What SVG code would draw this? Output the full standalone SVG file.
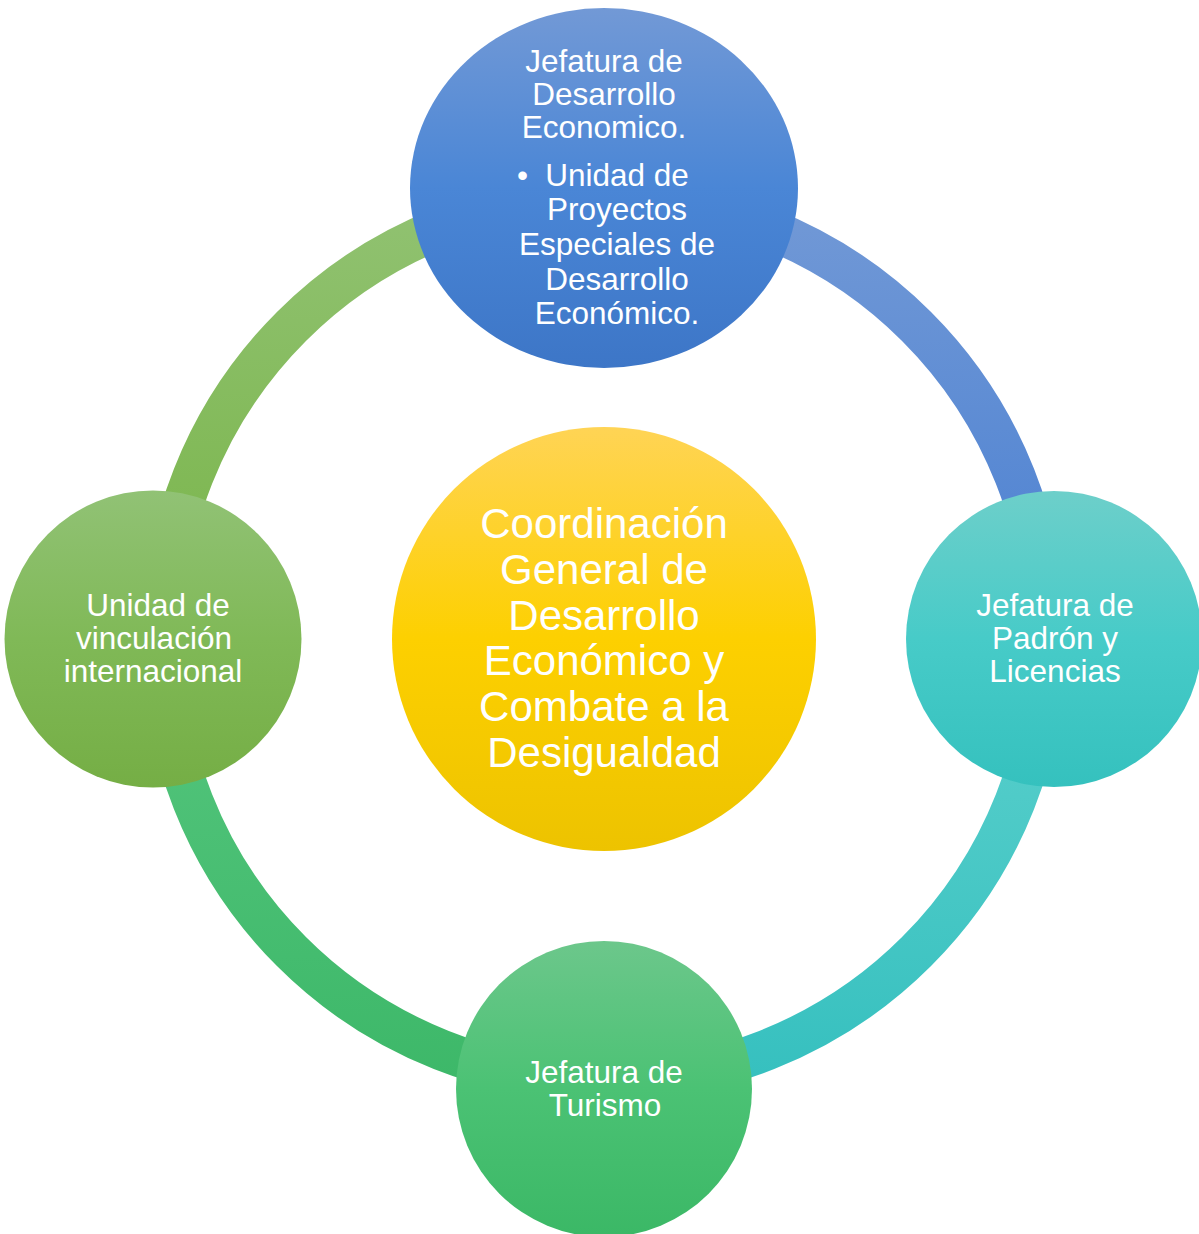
<svg xmlns="http://www.w3.org/2000/svg" width="1199" height="1234" viewBox="0 0 1199 1234">
<defs>
<linearGradient id="gTop" x1="0" y1="0" x2="0" y2="1"><stop offset="0" stop-color="#7299d6"/><stop offset="0.5" stop-color="#4a86d6"/><stop offset="1" stop-color="#3d76c7"/></linearGradient>
<linearGradient id="gRight" x1="0" y1="0" x2="0" y2="1"><stop offset="0" stop-color="#6dcfca"/><stop offset="0.5" stop-color="#47cbc8"/><stop offset="1" stop-color="#35c1be"/></linearGradient>
<linearGradient id="gBottom" x1="0" y1="0" x2="0" y2="1"><stop offset="0" stop-color="#6cc78b"/><stop offset="0.5" stop-color="#4bc274"/><stop offset="1" stop-color="#3bb866"/></linearGradient>
<linearGradient id="gLeft" x1="0" y1="0" x2="0" y2="1"><stop offset="0" stop-color="#91c275"/><stop offset="0.5" stop-color="#80b957"/><stop offset="1" stop-color="#75ae45"/></linearGradient>
<linearGradient id="gCenter" x1="0" y1="0" x2="0" y2="1"><stop offset="0" stop-color="#ffd455"/><stop offset="0.5" stop-color="#fdd000"/><stop offset="1" stop-color="#edc300"/></linearGradient>
<linearGradient id="aTR" gradientUnits="userSpaceOnUse" x1="0" y1="197" x2="0" y2="639"><stop offset="0" stop-color="#7299d6"/><stop offset="1" stop-color="#4a80d2"/></linearGradient>
<linearGradient id="aRB" gradientUnits="userSpaceOnUse" x1="0" y1="639" x2="0" y2="1081"><stop offset="0" stop-color="#5dd1cd"/><stop offset="1" stop-color="#36c0bf"/></linearGradient>
<linearGradient id="aBL" gradientUnits="userSpaceOnUse" x1="0" y1="639" x2="0" y2="1081"><stop offset="0" stop-color="#56c67e"/><stop offset="1" stop-color="#3db869"/></linearGradient>
<linearGradient id="aLT" gradientUnits="userSpaceOnUse" x1="0" y1="197" x2="0" y2="639"><stop offset="0" stop-color="#91c272"/><stop offset="1" stop-color="#78b447"/></linearGradient>
</defs>
<style>
.arc{fill:none;stroke-width:41}
.t{font-family:"Liberation Sans",Arial,sans-serif;fill:#ffffff;text-anchor:middle;font-size:31.5px}
.c{font-size:42px}
.s{text-anchor:start}
</style>
<g id="connectors">
<path class="arc" stroke="url(#aTR)" d="M 604 197 A 442 442 0 0 1 1046 639"/>
<path class="arc" stroke="url(#aRB)" d="M 1046 639 A 442 442 0 0 1 604 1081"/>
<path class="arc" stroke="url(#aBL)" d="M 604 1081 A 442 442 0 0 1 162 639"/>
<path class="arc" stroke="url(#aLT)" d="M 162 639 A 442 442 0 0 1 604 197"/>
</g>
<g id="center">
<circle cx="604" cy="639" r="212" fill="url(#gCenter)"/>
<text class="t c" x="604" y="538">Coordinación</text>
<text class="t c" x="604" y="584">General de</text>
<text class="t c" x="604" y="630">Desarrollo</text>
<text class="t c" x="604" y="675">Económico y</text>
<text class="t c" x="604" y="721">Combate a la</text>
<text class="t c" x="604" y="767">Desigualdad</text>
</g>
<g id="top">
<ellipse cx="604" cy="188" rx="194" ry="180" fill="url(#gTop)"/>
<text class="t" x="604" y="72">Jefatura de</text>
<text class="t" x="604" y="105">Desarrollo</text>
<text class="t" x="604" y="138">Economico.</text>
<text class="t s" x="517" y="186">•</text>
<text class="t" x="617" y="186">Unidad de</text>
<text class="t" x="617" y="220">Proyectos</text>
<text class="t" x="617" y="255">Especiales de</text>
<text class="t" x="617" y="290">Desarrollo</text>
<text class="t" x="617" y="324">Económico.</text>
</g>
<g id="right">
<circle cx="1054" cy="639" r="148" fill="url(#gRight)"/>
<text class="t" x="1055" y="616">Jefatura de</text>
<text class="t" x="1055" y="649">Padrón y</text>
<text class="t" x="1055" y="682">Licencias</text>
</g>
<g id="bottom">
<circle cx="604" cy="1089" r="148" fill="url(#gBottom)"/>
<text class="t" x="604" y="1083">Jefatura de</text>
<text class="t" x="605" y="1116">Turismo</text>
</g>
<g id="left">
<circle cx="153" cy="639" r="148.5" fill="url(#gLeft)"/>
<text class="t" x="158" y="616">Unidad de</text>
<text class="t" x="154" y="649">vinculación</text>
<text class="t" x="153" y="682">internacional</text>
</g>
</svg>
